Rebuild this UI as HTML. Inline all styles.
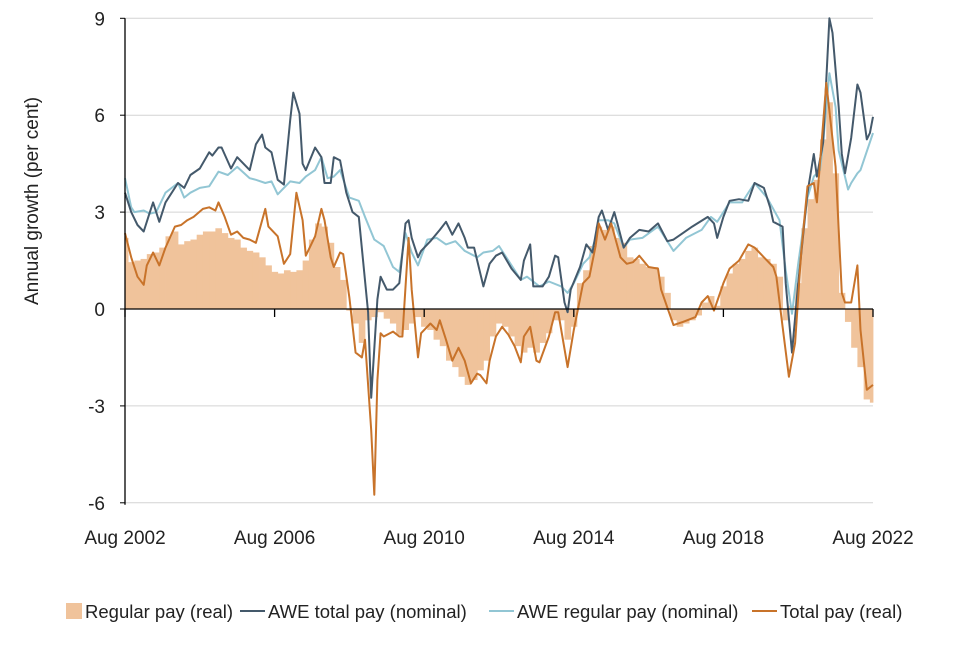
<!DOCTYPE html>
<html><head><meta charset="utf-8"><style>
body{margin:0;background:#fff;}
svg text{font-family:"Liberation Sans",sans-serif;fill:#222;}
</style></head><body>
<svg id="chart" width="960" height="640" xmlns="http://www.w3.org/2000/svg">
<g id="grid"></g>
<g id="bars"></g>
<g id="lines"></g>
<g id="axes"></g>
<text transform="translate(38,201) rotate(-90)" text-anchor="middle" font-size="19">Annual growth (per cent)</text>
<g font-size="18.5">
 <g><rect x="66" y="603" width="16" height="16" fill="#f0c39b"/><text x="85" y="618">Regular pay (real)</text></g>
 <g><line x1="240" y1="611" x2="265" y2="611" stroke="#44596b" stroke-width="2"/><text x="268" y="618">AWE total pay (nominal)</text></g>
 <g><line x1="489" y1="611" x2="514" y2="611" stroke="#92c6d4" stroke-width="2"/><text x="517" y="618">AWE regular pay (nominal)</text></g>
 <g><line x1="752" y1="611" x2="777" y2="611" stroke="#c8732a" stroke-width="2"/><text x="780" y="618">Total pay (real)</text></g>
</g>
</svg>
<script>
// month offsets from Aug 2002
const xTickMonths=[0,48,96,144,192,240];
const xTickLabels=["Aug 2002","Aug 2006","Aug 2010","Aug 2014","Aug 2018","Aug 2022"];
const yTicks=[9,6,3,0,-3,-6];
// regular pay (real): one bar per 2 months
const barVals=[2.2,1.45,1.5,1.55,1.7,1.75,1.9,2.25,2.4,2.0,2.1,2.15,2.3,2.4,2.4,2.5,2.35,2.2,2.15,1.9,1.8,1.75,1.6,1.35,1.15,1.1,1.2,1.15,1.2,1.5,2.15,2.65,2.55,2.05,1.3,0.9,-0.05,-0.45,-1.05,-0.35,-0.25,-0.1,-0.3,-0.45,-0.8,-0.65,-0.45,-0.25,-0.55,-0.65,-0.95,-1.15,-1.6,-1.8,-2.1,-2.35,-2.2,-1.9,-1.6,-0.85,-0.45,-0.55,-0.85,-1.15,-1.35,-1.2,-1.35,-1.05,-0.75,-0.35,-0.35,-0.95,-0.55,0.8,1.2,1.95,2.55,2.45,2.55,2.2,2.05,1.6,1.55,1.4,1.3,1.3,1.0,0.5,-0.35,-0.55,-0.45,-0.35,-0.2,0.2,0.4,0.1,0.7,1.1,1.4,1.55,1.8,1.9,1.6,1.55,1.4,1.0,-0.35,0.1,0.8,2.5,3.4,4.0,5.25,6.4,4.2,0.5,-0.4,-1.2,-1.8,-2.8,-2.9];
const totalNomMonths=[0,2,4,6,8,9,11,13,17,19,21,24,27,28,30,31,34,36,40,42,44,45,47,49,51,53,54,56,57,58,61,63,64,66,67,69,71,73,75,78,79,81,82,84,86,88,90,91,92,94,95,98,101,103,105,107,109,110,112,115,117,119,121,124,127,128,130,131,134,136,138,139,141,142,143,146,148,150,152,153,155,157,158,160,162,165,168,171,174,176,179,182,187,189,190,192,194,197,200,202,205,207,208,211,212,214,216,219,221,222,224,226,227,229,230,231,233,235,236,238,239,240];
const totalNomVals=[3.6,3.0,2.6,2.4,3.0,3.3,2.7,3.3,3.9,3.75,4.15,4.35,4.85,4.75,5.0,5.0,4.35,4.7,4.3,5.1,5.4,5.0,4.85,4.0,3.85,5.85,6.7,6.05,4.5,4.3,5.0,4.7,3.9,3.9,4.7,4.6,3.6,3.0,2.85,-0.1,-2.75,0.3,1.0,0.6,0.6,0.8,2.65,2.75,2.2,1.6,1.8,2.1,2.45,2.7,2.3,2.65,2.2,1.9,1.9,0.7,1.4,1.65,1.75,1.25,0.9,1.5,2.0,0.7,0.7,1.0,1.65,1.6,0.2,-0.1,0.6,1.3,2.0,1.75,2.85,3.05,2.45,3.0,2.65,1.9,2.2,2.45,2.4,2.65,2.1,2.15,2.35,2.55,2.85,2.65,2.2,2.85,3.35,3.4,3.35,3.9,3.75,3.15,2.7,2.55,0.8,-1.35,0.8,3.6,4.8,4.1,5.15,9.0,8.55,6.25,4.8,4.2,5.3,6.95,6.7,5.25,5.45,5.95];
const regNomMonths=[0,2,3,6,8,10,13,17,19,21,24,27,30,33,36,40,42,45,47,49,53,56,58,61,63,65,67,69,72,75,77,80,83,86,88,90,92,94,97,100,103,106,109,113,115,118,120,123,125,127,129,133,136,140,142,144,147,149,151,152,155,157,160,162,166,171,176,180,185,188,190,194,198,202,206,210,212,214,216,219,221,223,224,226,228,229,232,233,235,236,240];
const regNomVals=[4.05,3.15,3.0,3.05,2.95,3.0,3.6,3.9,3.45,3.6,3.75,3.8,4.25,4.15,4.4,4.05,4.0,3.9,3.95,3.55,3.95,3.9,4.1,4.3,4.7,4.05,4.1,4.3,3.45,3.35,2.85,2.15,1.95,1.3,1.15,2.35,1.75,1.35,2.15,2.2,2.0,2.1,1.8,1.6,1.75,1.8,1.95,1.5,1.2,0.9,1.0,0.7,0.85,0.7,0.5,0.8,1.4,1.6,2.2,2.75,2.75,2.65,1.9,2.15,2.2,2.55,1.8,2.2,2.45,2.85,2.7,3.3,3.3,3.9,3.45,2.75,1.2,-0.15,1.4,3.45,4.1,4.3,5.15,7.3,6.25,4.9,3.7,3.9,4.2,4.3,5.45];
const totalRealMonths=[0,2,4,6,7,9,11,13,16,18,20,22,25,27,29,30,32,34,36,38,40,42,45,46,49,51,53,55,57,58,61,63,64,66,67,69,70,72,74,76,77,79,80,81,82,83,86,88,89,91,92,94,95,98,100,101,103,105,107,109,111,113,114,116,117,119,121,123,125,127,128,130,132,133,136,138,139,142,144,147,149,151,152,154,156,159,161,163,165,168,171,172,174,176,179,183,185,187,189,192,194,197,200,202,205,208,209,211,213,215,217,219,221,222,225,228,230,231,233,235,236,238,240];
const totalRealVals=[2.35,1.6,1.0,0.75,1.35,1.75,1.35,1.9,2.55,2.6,2.75,2.85,3.1,3.15,3.05,3.3,2.85,2.3,2.4,2.2,2.15,2.05,3.1,2.55,2.25,1.4,1.7,3.6,2.75,1.65,2.25,3.1,2.75,1.6,1.3,1.75,1.7,0.35,-1.35,-1.5,-0.95,-3.75,-5.75,-2.2,-0.75,-0.85,-0.7,-0.85,-0.85,2.2,0.6,-1.5,-0.75,-0.45,-0.65,-0.35,-0.95,-1.6,-1.2,-1.6,-2.3,-2.0,-2.05,-2.3,-1.6,-0.85,-0.55,-0.8,-1.15,-1.65,-0.85,-0.55,-1.6,-1.65,-0.85,-0.1,-0.1,-1.8,-0.65,0.8,1.0,1.95,2.65,2.15,2.65,1.6,1.4,1.45,1.65,1.3,1.25,0.6,0.05,-0.5,-0.4,-0.25,0.2,0.4,-0.05,0.8,1.25,1.5,2.0,1.9,1.6,1.3,1.0,-0.55,-2.1,-1.05,1.8,3.8,3.9,3.3,7.0,4.4,0.5,0.2,0.2,1.35,-0.65,-2.5,-2.35];

const X0=125,X1=873,Y0=309,UNIT=32.3,NM=240;
const xs=m=>X0+m*(X1-X0)/NM;
const ys=v=>Y0-v*UNIT;
const NS='http://www.w3.org/2000/svg';
function mk(tag,attrs,parent){const e=document.createElementNS(NS,tag);for(const k in attrs)e.setAttribute(k,attrs[k]);parent.appendChild(e);return e;}
const grid=document.getElementById('grid'),bars=document.getElementById('bars'),lines=document.getElementById('lines'),axes=document.getElementById('axes');
yTicks.forEach(t=>{
  if(t!==0){const g=mk('line',{x1:X0,x2:X1,y1:ys(t),y2:ys(t),stroke:'#d4d4d4','stroke-width':1},grid);
  
  }
  const tl=mk('text',{x:X0-20,y:ys(t)+7,'text-anchor':'end','font-size':19},axes);
  tl.textContent=t;
  
  
  mk('line',{x1:X0-5,x2:X0,y1:ys(t),y2:ys(t),stroke:'#000'},axes);
});
barVals.forEach((v,i)=>{
  const xa=xs(i*2-1),xb=xs(i*2+1);
  const a=Math.max(X0,xa),b=Math.min(X1,xb);
  const r=mk('rect',{x:a,width:b-a+0.4,y:Math.min(ys(v),Y0),height:Math.abs(ys(v)-Y0),fill:'#f0c39b'},bars);
  
  
});
function line(ms,vs,col,name){
  const d=ms.map((m,i)=>(i?'L':'M')+xs(m).toFixed(1)+','+ys(vs[i]).toFixed(1)).join('');
  const p=mk('path',{d:d,fill:'none',stroke:col,'stroke-width':2,'stroke-linejoin':'round'},lines);
  
  
}
line(regNomMonths,regNomVals,'#92c6d4','awe-regular-pay-nominal-line');
line(totalNomMonths,totalNomVals,'#44596b','awe-total-pay-nominal-line');
line(totalRealMonths,totalRealVals,'#c8732a','total-pay-real-line');
mk('line',{x1:X0,x2:X0,y1:ys(9),y2:ys(-6)+2,stroke:'#000','stroke-width':1.3},axes);
mk('line',{x1:X0,x2:X1,y1:Y0,y2:Y0,stroke:'#000','stroke-width':1.3},axes);
xTickMonths.forEach((m,i)=>{
  mk('line',{x1:xs(m),x2:xs(m),y1:Y0,y2:Y0+8,stroke:'#000','stroke-width':1.3},axes);
  const t=mk('text',{x:xs(m),y:544,'text-anchor':'middle','font-size':19},axes);
  t.textContent=xTickLabels[i];
  
  
});
</script>
</body></html>
